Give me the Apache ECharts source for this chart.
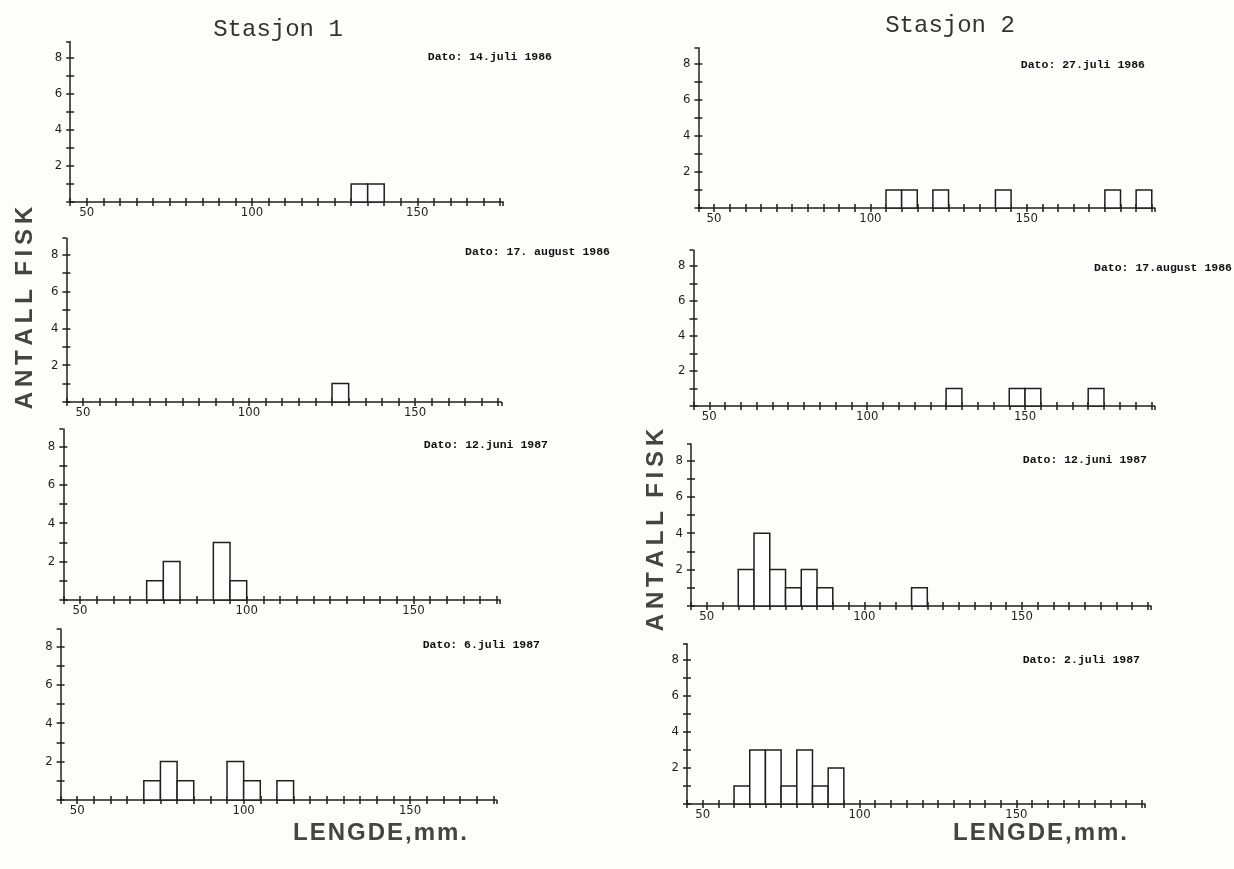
<!DOCTYPE html>
<html>
<head>
<meta charset="utf-8">
<script src="https://cdn.jsdelivr.net/npm/echarts@6/dist/echarts.min.js"></script>
<style>
  html, body { margin: 0; padding: 0; background: #fdfdfb; }
  #main { width: 1234px; height: 869px; }
</style>
</head>
<body>
<div id="main"></div>
<script>
// bin width in mm (each bar covers [len, len + BIN])
const BIN = 5;

// Stasjon 1
const st1_14jul86_len = [130, 135];
const st1_14jul86_n   = [1, 1];
const st1_17aug86_len = [125];
const st1_17aug86_n   = [1];
const st1_12jun87_len = [70, 75, 90, 95];
const st1_12jun87_n   = [1, 2, 3, 1];
const st1_06jul87_len = [70, 75, 80, 95, 100, 110];
const st1_06jul87_n   = [1, 2, 1, 2, 1, 1];

// Stasjon 2
const st2_27jul86_len = [105, 110, 120, 140, 175, 185];
const st2_27jul86_n   = [1, 1, 1, 1, 1, 1];
const st2_17aug86_len = [125, 145, 150, 170];
const st2_17aug86_n   = [1, 1, 1, 1];
const st2_12jun87_len = [60, 65, 70, 75, 80, 85, 115];
const st2_12jun87_n   = [2, 4, 2, 1, 2, 1, 1];
const st2_02jul87_len = [60, 65, 70, 75, 80, 85, 90];
const st2_02jul87_n   = [1, 3, 3, 1, 3, 1, 2];

const xTickLabels = [50, 100, 150];
const yTickLabels = [2, 4, 6, 8];

const INK = '#1f1f1f';
const LW = 1.5;
const tickFont = "'Liberation Sans Narrow', 'DejaVu Sans Condensed', 'Liberation Sans', sans-serif";
const monoFont = "'Liberation Mono', 'DejaVu Sans Mono', monospace";

// layout of the eight small plots
const panels = [
  { date: 'Dato: 14.juli 1986',    len: st1_14jul86_len, n: st1_14jul86_n, left: 70.2, top: 41.8,  width: 433,   height: 160.2, xMax: 176, dx: 552,  dy: 57 },
  { date: 'Dato: 17. august 1986', len: st1_17aug86_len, n: st1_17aug86_n, left: 66.4, top: 238.2, width: 435,   height: 163.8, xMax: 176, dx: 610,  dy: 252 },
  { date: 'Dato: 12.juni 1987',    len: st1_12jun87_len, n: st1_12jun87_n, left: 63.3, top: 429.1, width: 436.8, height: 170.9, xMax: 176, dx: 548,  dy: 445 },
  { date: 'Dato: 6.juli 1987',     len: st1_06jul87_len, n: st1_06jul87_n, left: 60.6, top: 629.1, width: 436,   height: 170.9, xMax: 176, dx: 540,  dy: 645 },
  { date: 'Dato: 27.juli 1986',    len: st2_27jul86_len, n: st2_27jul86_n, left: 698.4, top: 47.8, width: 456.5, height: 160.2, xMax: 191, dx: 1145, dy: 65 },
  { date: 'Dato: 17.august 1986',  len: st2_17aug86_len, n: st2_17aug86_n, left: 693.5, top: 250.2, width: 461,  height: 155.8, xMax: 191, dx: 1232, dy: 268 },
  { date: 'Dato: 12.juni 1987',    len: st2_12jun87_len, n: st2_12jun87_n, left: 691,  top: 444,   width: 460,   height: 162,   xMax: 191, dx: 1147, dy: 460 },
  { date: 'Dato: 2.juli 1987',     len: st2_02jul87_len, n: st2_02jul87_n, left: 687,  top: 643.8, width: 458,   height: 160.2, xMax: 191, dx: 1140, dy: 660 }
];

const grids = [], xAxes = [], yAxes = [], series = [], texts = [];
const N = panels.length;

panels.forEach((p, i) => {
  grids.push({ left: p.left, top: p.top, width: p.width, height: p.height, containLabel: false });

  // main x axis: line, labels, upward half of the "+" ticks
  xAxes[i] = {
    type: 'value', gridIndex: i, position: 'bottom', min: 45, max: p.xMax, interval: 5,
    axisLine: { onZero: false, lineStyle: { color: INK, width: LW } },
    axisTick: { inside: true, length: 4, lineStyle: { color: INK, width: LW } },
    splitLine: { show: false },
    axisLabel: {
      color: INK, fontFamily: tickFont, fontSize: 13, margin: 4, showMaxLabel: false,
      formatter: v => xTickLabels.includes(v) ? String(v) : ''
    }
  };
  // twin x axis moved onto the baseline: downward half of the ticks
  xAxes[N + i] = {
    type: 'value', gridIndex: i, position: 'top', offset: -p.height, min: 45, max: p.xMax, interval: 5,
    axisLine: { show: false, onZero: false },
    axisTick: { inside: true, length: 4, lineStyle: { color: INK, width: LW } },
    splitLine: { show: false }, axisLabel: { show: false }
  };
  yAxes[i] = {
    type: 'value', gridIndex: i, position: 'left', min: 0, max: 8.9, interval: 1,
    axisLine: { show: true, onZero: false, lineStyle: { color: INK, width: LW } },
    axisTick: { show: true, inside: true, length: 4, lineStyle: { color: INK, width: LW } },
    splitLine: { show: false },
    axisLabel: {
      color: INK, fontFamily: tickFont, fontSize: 13, margin: 8, showMaxLabel: false,
      formatter: v => yTickLabels.includes(v) ? String(v) : ''
    }
  };
  yAxes[N + i] = {
    type: 'value', gridIndex: i, position: 'right', offset: -p.width, min: 0, max: 8.9, interval: 1,
    axisLine: { show: false, onZero: false },
    axisTick: { show: true, inside: true, length: 4, lineStyle: { color: INK, width: LW } },
    splitLine: { show: false }, axisLabel: { show: false }
  };

  series.push({
    type: 'custom', xAxisIndex: i, yAxisIndex: i,
    data: p.len.map((l, k) => [l, p.n[k]]),
    renderItem: (params, api) => {
      const x0 = api.value(0), h = api.value(1);
      const a = api.coord([x0, h]);
      const b = api.coord([x0 + BIN, 0]);
      return {
        type: 'rect',
        shape: { x: a[0], y: a[1], width: b[0] - a[0], height: b[1] - a[1] },
        style: { fill: '#ffffff', stroke: INK, lineWidth: LW }
      };
    },
    z: 3
  });

  texts.push({
    type: 'text', x: p.dx, y: p.dy,
    style: { text: p.date, align: 'right', verticalAlign: 'middle', fill: '#111',
             font: "bold 11.5px " + monoFont }
  });
});

const headFont = "24px " + monoFont;
const bigFont = "bold 24px 'Liberation Sans', 'DejaVu Sans', sans-serif";
const thin = '\u2009', hair = '\u200A';
const spaced = (s, g) => s.split('').join(g);

texts.push(
  { type: 'text', x: 278, y: 30, style: { text: 'Stasjon 1', align: 'center', verticalAlign: 'middle', fill: '#333', font: headFont } },
  { type: 'text', x: 950, y: 26, style: { text: 'Stasjon 2', align: 'center', verticalAlign: 'middle', fill: '#333', font: headFont } },
  { type: 'text', x: 25, y: 308, rotation: Math.PI / 2,
    style: { text: spaced('ANTALL', thin) + '  ' + spaced('FISK', thin), align: 'center', verticalAlign: 'middle', fill: '#444', font: bigFont } },
  { type: 'text', x: 656, y: 530, rotation: Math.PI / 2,
    style: { text: spaced('ANTALL', thin) + '  ' + spaced('FISK', thin), align: 'center', verticalAlign: 'middle', fill: '#444', font: bigFont } },
  { type: 'text', x: 380, y: 833,
    style: { text: spaced('LENGDE,mm.', hair), align: 'center', verticalAlign: 'middle', fill: '#444', font: bigFont } },
  { type: 'text', x: 1040, y: 833,
    style: { text: spaced('LENGDE,mm.', hair), align: 'center', verticalAlign: 'middle', fill: '#444', font: bigFont } }
);

const chart = echarts.init(document.getElementById('main'), null, { renderer: 'canvas' });
chart.setOption({
  backgroundColor: '#fdfdfb',
  animation: false,
  grid: grids,
  xAxis: xAxes,
  yAxis: yAxes,
  series: series,
  graphic: texts
});
</script>
</body>
</html>
